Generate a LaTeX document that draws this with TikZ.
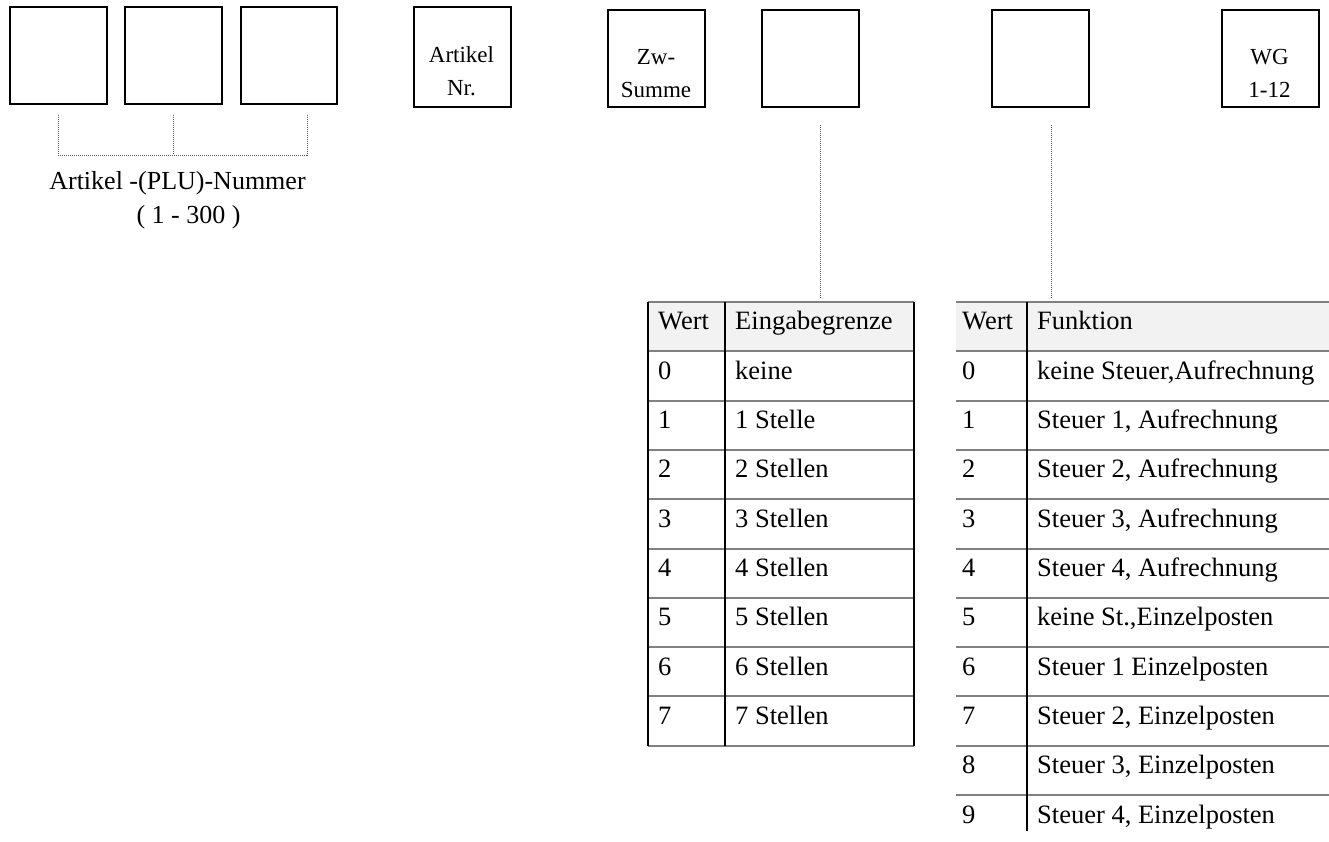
\documentclass[tikz,border=0pt]{standalone}
\usepackage{fontspec}
\setmainfont{Liberation Serif}
\begin{document}
\begin{tikzpicture}[x=1pt,y=-1pt,
  keybox/.style={draw=black, line width=2pt, minimum width=97pt, minimum height=97pt, inner sep=0pt, anchor=north west},
  keytext/.style={font=\fontsize{23}{33}\selectfont, align=center, anchor=north, inner sep=0pt},
  guide/.style={draw=gray!70!black, line width=1pt, dash pattern=on 1pt off 1pt},
  labeltext/.style={font=\fontsize{26}{30}\selectfont, anchor=base, inner sep=0pt},
  cell/.style={font=\fontsize{26.5}{30}\selectfont, anchor=base west, inner sep=0pt},
  rowline/.style={draw=gray, line width=2pt},
  colline/.style={draw=black, line width=2.7pt},
  headfill/.style={fill=gray!10}
]
\useasboundingbox (0,0) rectangle (1329,841);

% key row
\node[keybox] (k1) at (9,6) {};
\node[keybox] (k2) at (124,6) {};
\node[keybox, minimum width=96pt] (k3) at (240,6) {};
\node[keybox, minimum height=100pt] (art) at (413,6) {};
\node[keybox] (zw) at (607,9) {};
\node[keybox] (k5) at (761,9) {};
\node[keybox] (k6) at (991,9) {};
\node[keybox] (wg) at (1221,9) {};

\node[keytext] (artT) at (461.5,46) {Artikel\\Nr.};
\node[keytext] (zwT) at (656,49.5) {Zw-\\Summe};
\node[keytext] (wgT) at (1269.5,49.5) {WG\\1-12};

% bracket under the three PLU digits
\coordinate (g1) at (58,115);
\coordinate (g2) at (173,115);
\coordinate (g3) at (307,115);
\coordinate (gj) at (307,155);
\draw[guide] (g1) |- (gj) -- (g3);
\draw[guide] (g2) -- (g2 |- gj);
\node[labeltext] (plu) at (177.5,189) {Artikel -(PLU)-Nummer};
\node[labeltext] (range) at (188.5,223) {( 1 - 300 )};

% guides down to the tables
\coordinate (d1) at (820,125);
\coordinate (d1e) at (820,298);
\coordinate (d2) at (1051,125);
\coordinate (d2e) at (1051,298);
\draw[guide] (d1) -- (d1e);
\draw[guide] (d2) -- (d2e);

\def\rh{49.3}

% table: Eingabegrenze
\fill[headfill] (648,302) rectangle (914,351.3);
\foreach \k in {0,...,9} \draw[rowline] (648,{302+\k*\rh}) -- (914,{302+\k*\rh});
\draw[colline] (648,302) -- (648,745.7);
\draw[colline] (725,302) -- (725,745.7);
\draw[colline] (914,302) -- (914,745.7);
\node[cell] (ehv) at (658,329) {Wert};
\node[cell] (eht) at (735,329) {Eingabegrenze};
\foreach \t [count=\i from 0] in {keine,1 Stelle,2 Stellen,3 Stellen,4 Stellen,5 Stellen,6 Stellen,7 Stellen}{
  \node[cell] (ev\i) at (658,{302+(\i+1)*\rh+28}) {\i};
  \node[cell] (et\i) at (735,{302+(\i+1)*\rh+28}) {\t};
}

% table: Funktion
\fill[headfill] (956,302) rectangle (1329,351.3);
\foreach \k in {0,...,10} \draw[rowline] (956,{302+\k*\rh}) -- (1329,{302+\k*\rh});
\draw[colline] (1027,302) -- (1027,831);
\node[cell] (fhv) at (962,329) {Wert};
\node[cell] (fht) at (1037,329) {Funktion};
\foreach \t [count=\i from 0] in {{keine Steuer,Aufrechnung},{Steuer 1, Aufrechnung},{Steuer 2, Aufrechnung},{Steuer 3, Aufrechnung},{Steuer 4, Aufrechnung},{keine St.,Einzelposten},{Steuer 1 Einzelposten},{Steuer 2, Einzelposten},{Steuer 3, Einzelposten},{Steuer 4, Einzelposten}}{
  \node[cell] (fv\i) at (962,{302+(\i+1)*\rh+28}) {\i};
  \node[cell] (ft\i) at (1037,{302+(\i+1)*\rh+28}) {\t};
}
\end{tikzpicture}
\end{document}
